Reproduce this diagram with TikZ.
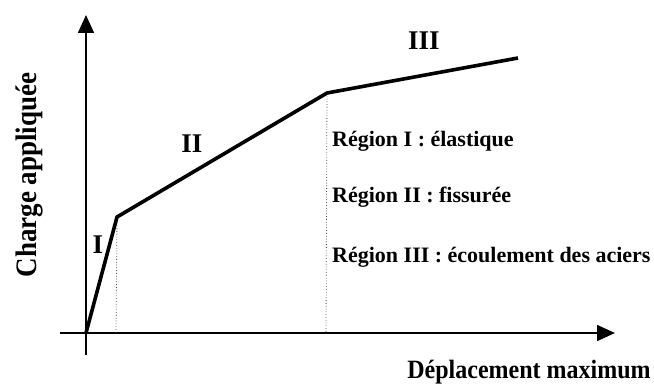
\documentclass[tikz,border=0pt]{standalone}
\usepackage{graphicx}
\usepackage{fontspec}
\setmainfont{Liberation Serif}
\usetikzlibrary{arrows.meta}
\begin{document}
\begin{tikzpicture}[x=1pt,y=-1pt,
  axis/.style={line width=1.6pt,-{Triangle[length=18pt,width=16pt]}},
  curve/.style={line width=3.6pt,line join=miter},
  guide/.style={dotted,line width=0.8pt,black!70},
  roman/.style={font=\bfseries\fontsize{27}{30}\selectfont,inner sep=0pt},
  lbl/.style={font=\bfseries\fontsize{22}{25}\selectfont,inner sep=0pt},
  big/.style={font=\bfseries\fontsize{24}{28}\selectfont,inner sep=0pt}]
\useasboundingbox (0,0) rectangle (654,385);
\coordinate (yb) at (86,355);
\coordinate (yt) at (86,15);
\coordinate (xl) at (60,333);
\coordinate (xr) at (615,333);
\coordinate (o) at (86,333);
\coordinate (p1) at (117,217);
\coordinate (p2) at (327,93);
\coordinate (p3) at (518,58);
\coordinate (f1) at (116,333);
\coordinate (f2) at (326,333);
\draw[axis] (yb) -- (yt);
\draw[axis] (xl) -- (xr);
\draw[guide] (p1) -- (f1);
\draw[guide] (p2) -- (f2);
\draw[curve] (o) -- (p1) -- (p2) -- (p3);
\node[roman] (l1) at (98,245) {I};
\node[roman] (l2) at (192,144) {II};
\node[roman] (l3) at (424,41) {III};
\node[lbl,anchor=base west] (r1) at (332,147) {Région I : élastique};
\node[lbl,anchor=base west] (r2) at (332,203) {Région II : fissurée};
\node[lbl,anchor=base west] (r3) at (332,262) {Région III : écoulement des aciers};
\node[big,rotate=90,anchor=base,font=\bfseries\fontsize{27}{30}\selectfont] (ya) at (36,175) {\scalebox{1}[1.1]{Charge appliquée}};
\node[big,anchor=base] (xa) at (529,378) {\scalebox{1}[1.1]{Déplacement maximum}};
\end{tikzpicture}
\end{document}
